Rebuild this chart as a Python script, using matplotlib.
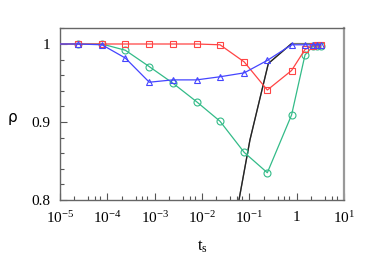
import numpy as np
import matplotlib
matplotlib.use('Agg')
import matplotlib.pyplot as plt
from matplotlib.ticker import FixedLocator, MultipleLocator

plt.rcParams['font.family'] = 'Liberation Serif'
plt.rcParams['mathtext.fontset'] = 'custom'
plt.rcParams['mathtext.rm'] = 'Liberation Serif'
plt.rcParams['mathtext.it'] = 'Liberation Serif:italic'

ts = [7.7e-6, 2.4e-5, 7.7e-5, 2.4e-4, 7.7e-4, 2.4e-3, 7.7e-3, 2.4e-2,
      7.8e-2, 0.24, 0.78, 1.5, 2.2, 2.7, 3.2]
rho_red = [1, 1, 1, 1, 1, 1, 1, 0.999, 0.977, 0.941, 0.966, 0.993,
           0.998, 0.999, 0.999]
rho_blue = [1, 1, 0.999, 0.982, 0.951, 0.954, 0.954, 0.958, 0.963, 0.979,
            0.999, 0.999, 0.999, 0.999, 0.999]
rho_green = [1, 1, 1, 0.992, 0.971, 0.950, 0.926, 0.901, 0.861, 0.835,
             0.909, 0.986, 0.997, 0.998, 0.998]

ts_black = [0.0524, 0.103, 0.252, 0.78, 3.2]
rho_black = [0.7795, 0.877, 0.975, 1.0005, 1.0005]

xticks = [1e-5, 1e-4, 1e-3, 1e-2, 1e-1, 1, 10]
xticklabels = ['$10^{-5}$', '$10^{-4}$', '$10^{-3}$', '$10^{-2}$',
               '$10^{-1}$', '$1$', '$10^{1}$']
yticks = [0.8, 0.9, 1.0]
yticklabels = ['0.8', '0.9', '1']

fig = plt.figure(figsize=(3.74, 2.62), dpi=100)
ax = fig.add_axes([0.1604, 0.2366, 0.7594, 0.6565])

ax.plot(ts_black, rho_black, color='#777777', lw=1.0, zorder=1)
ax.plot(ts_black[:4], rho_black[:4], color='#222222', lw=0.9, zorder=2)
ax.plot(ts, rho_green, color='#33bb88', lw=0.9, marker='o', ms=5,
        mfc='none', mew=0.8, zorder=3)
ax.plot(ts, rho_red, color='#ff4444', lw=0.9, marker='s', ms=5,
        mfc='none', mew=0.8, zorder=4)
ax.plot(ts, rho_blue, color='#4444ff', lw=0.9, marker='^', ms=5,
        mfc='none', mew=0.8, zorder=5)

ax.set_xscale('log')
ax.set_xlim(1e-5, 10)
ax.set_ylim(0.8, 1.0205)

ax.xaxis.set_major_locator(FixedLocator(xticks))
ax.set_xticklabels(xticklabels)
ax.xaxis.set_minor_locator(FixedLocator(
    [m * 10.0 ** e for e in range(-5, 1) for m in (2, 4, 5.5, 7)]))
ax.xaxis.set_minor_formatter(plt.NullFormatter())
ax.set_yticks(yticks)
ax.set_yticklabels(yticklabels)
ax.yaxis.set_minor_locator(MultipleLocator(0.02))

ax.tick_params(which='both', direction='in', top=False, right=False,
               labelsize=11, colors='#555555', labelcolor='black')
ax.tick_params(which='major', length=5, width=0.8, pad=7)
ax.tick_params(which='minor', length=3, width=0.8)

for s in ax.spines.values():
    s.set_color('#666666')
    s.set_linewidth(1.0)
ax.spines['right'].set_linewidth(1.6)
ax.spines['right'].set_color('#999999')

ax.set_xlabel(r'$\mathrm{t_s}$', fontsize=12, labelpad=9)
ax.set_ylabel('ρ', family='DejaVu Sans', fontsize=11, rotation=0,
              ha='center', va='center')
ax.yaxis.set_label_coords(-0.167, 0.48)

fig.savefig('out.png', dpi=100)
